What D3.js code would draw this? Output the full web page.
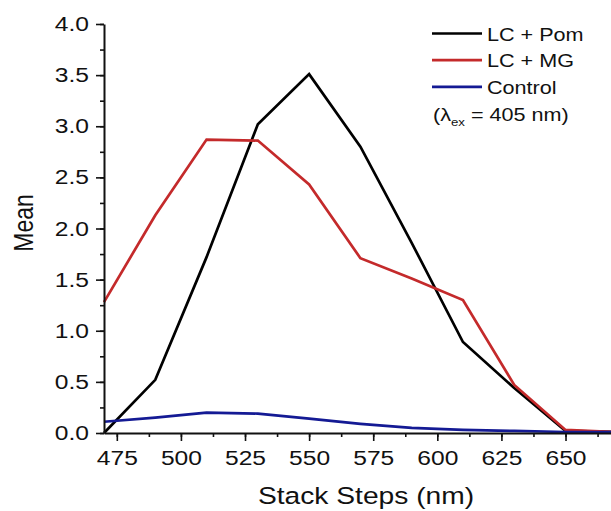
<!DOCTYPE html>
<html>
<head>
<meta charset="utf-8">
<script src="https://cdn.jsdelivr.net/npm/d3@7"></script>
<style>
  body { margin: 0; background: #fff; }
  svg text { font-family: Arial, "Liberation Sans", sans-serif; fill: #111; }
</style>
</head>
<body>
<svg id="chart" width="611" height="511"></svg>
<script>
// data
const steps = [470, 490, 510, 530, 550, 570, 590, 610, 630, 650, 670];
const lcPom = [0.0, 0.52, 1.72, 3.02, 3.51, 2.80, 1.86, 0.89, 0.44, 0.02, 0.01];
const lcMg = [1.28, 2.13, 2.87, 2.86, 2.43, 1.71, 1.51, 1.30, 0.47, 0.03, 0.01];
const control = [0.11, 0.15, 0.20, 0.19, 0.14, 0.09, 0.05, 0.03, 0.02, 0.01, 0.01];

const seriesNames = ["LC + Pom", "LC + MG", "Control"];
const seriesColors = ["#000000", "#c42a2b", "#141a94"];
const xTicks = [475, 500, 525, 550, 575, 600, 625, 650];
const yTicks = [0, 0.5, 1, 1.5, 2, 2.5, 3, 3.5, 4];

// the source picture is stretched sideways, so text is too
const SX = 1.2;

const svg = d3.select("#chart");

const x = d3.scaleLinear().domain([470, 670]).range([104, 616.8]);
const y = d3.scaleLinear().domain([0, 4]).range([433, 24]);

// minor ticks first, under the major ones
svg.append("g")
    .attr("transform", "translate(0,433)")
    .call(d3.axisBottom(x).tickValues(d3.range(475, 670, 12.5)).tickSize(4).tickFormat("").tickSizeOuter(0))
    .call(g => g.select(".domain").remove());

svg.append("g")
    .attr("transform", "translate(104,0)")
    .call(d3.axisLeft(y).tickValues(d3.range(0, 4.01, 0.25)).tickSize(4).tickFormat("").tickSizeOuter(0))
    .call(g => g.select(".domain").remove());

const xAxis = svg.append("g")
    .attr("transform", "translate(0,433)")
    .call(d3.axisBottom(x).tickValues(xTicks).tickSize(8).tickPadding(9).tickSizeOuter(0).tickFormat(d3.format("d")));

const yAxis = svg.append("g")
    .attr("transform", "translate(104,0)")
    .call(d3.axisLeft(y).tickValues(yTicks).tickSize(8).tickPadding(4.5).tickSizeOuter(0).tickFormat(d3.format(".1f")));

svg.selectAll(".tick line").attr("stroke", "#111").attr("stroke-width", 1.6);
svg.selectAll(".domain").attr("stroke", "#111").attr("stroke-width", 2);

xAxis.selectAll("text")
    .attr("font-size", 20.5)
    .attr("transform", `scale(${SX},1)`);
yAxis.selectAll("text")
    .attr("font-size", 20.5)
    .attr("transform", `scale(${SX},1)`);

// lines
const line = d3.line()
    .x((d, i) => x(steps[i]))
    .y(d => y(d));

[lcPom, lcMg, control].forEach((vals, i) => {
    svg.append("path")
        .datum(vals)
        .attr("fill", "none")
        .attr("stroke", seriesColors[i])
        .attr("stroke-width", 2.7)
        .attr("stroke-linejoin", "miter")
        .attr("d", line);
});

// redraw the axes on top so the lines sit behind them
svg.node().appendChild(xAxis.node());
svg.node().appendChild(yAxis.node());

// axis titles
svg.append("text")
    .attr("transform", `translate(366,504) scale(${SX},1)`)
    .attr("text-anchor", "middle")
    .attr("font-size", 23.5)
    .text("Stack Steps (nm)");

svg.append("text")
    .attr("transform", `translate(33,223) scale(${SX},1) rotate(-90)`)
    .attr("text-anchor", "middle")
    .attr("font-size", 23)
    .text("Mean");

// legend
const legend = svg.append("g");
seriesNames.forEach((name, i) => {
    const ly = 33.5 + i * 26.7;
    legend.append("line")
        .attr("x1", 432).attr("x2", 482)
        .attr("y1", ly).attr("y2", ly)
        .attr("stroke", seriesColors[i])
        .attr("stroke-width", 2.7);
    legend.append("text")
        .attr("transform", `translate(487,${ly + 7}) scale(${SX},1)`)
        .attr("font-size", 18)
        .text(name);
});

const note = legend.append("text")
    .attr("transform", `translate(433,120.5) scale(${SX},1)`)
    .attr("font-size", 18);
note.append("tspan").text("(λ");
note.append("tspan").attr("font-size", 11).attr("dy", 5).text("ex");
note.append("tspan").attr("dy", -5).text(" = 405 nm)");
</script>
</body>
</html>
